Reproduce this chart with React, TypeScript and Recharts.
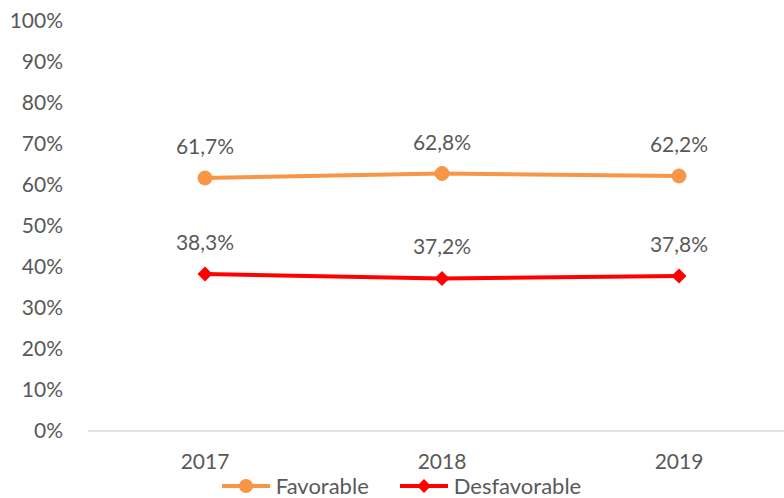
import { LineChart, Line, XAxis, YAxis, Legend, LabelList } from 'recharts';

const years = ['2017', '2018', '2019'];
const favorable = [61.7, 62.8, 62.2];
const desfavorable = [38.3, 37.2, 37.8];
const yTicks = [0, 10, 20, 30, 40, 50, 60, 70, 80, 90, 100];

const ORANGE = '#F79646';
const RED = '#FF0000';
const TEXT = '#595959';
const FONT = 'Lato, "Open Sans", sans-serif';
const FS = 21;

const data = years.map((year, i) => ({
    year,
    favorable: favorable[i],
    desfavorable: desfavorable[i],
}));

const pct = (v: number) => `${v.toFixed(1).replace('.', ',')}%`;

const Diamond = (props: any) => {
    const { cx, cy, fill } = props;
    if (cx == null || cy == null) return null;
    const s = 7.5;
    return (
        <polygon
            points={`${cx},${cy - s} ${cx + s},${cy} ${cx},${cy + s} ${cx - s},${cy}`}
            fill={fill}
        />
    );
};

const LegendContent = () => (
    <div style={{ display: 'flex', justifyContent: 'center', alignItems: 'center', paddingLeft: 18, fontFamily: FONT, fontSize: 22, color: TEXT }}>
        <svg width={50} height={20} style={{ marginRight: 5 }}>
            <line x1={1} y1={10} x2={49} y2={10} stroke={ORANGE} strokeWidth={4} />
            <circle cx={25} cy={10} r={7} fill={ORANGE} />
        </svg>
        <span style={{ marginRight: 30 }}>Favorable</span>
        <svg width={50} height={20} style={{ marginRight: 5 }}>
            <line x1={1} y1={10} x2={49} y2={10} stroke={RED} strokeWidth={4} />
            <polygon points="25,3 32,10 25,17 18,10" fill={RED} />
        </svg>
        <span>Desfavorable</span>
    </div>
);

const App = () => {
    return (
        <div style={{ position: 'absolute', left: 0, top: 0 }}>
            <LineChart width={784} height={498} data={data} margin={{ top: 21, right: 0, bottom: 0, left: 0 }}>
                <XAxis
                    dataKey="year"
                    height={41}
                    axisLine={{ stroke: '#D9D9D9', strokeWidth: 1.5 }}
                    tickLine={false}
                    tickMargin={17}
                    padding={{ left: 117, right: 105 }}
                    tick={{ fill: TEXT, fontSize: FS, fontFamily: FONT }}
                />
                <YAxis
                    width={88}
                    domain={[0, 100]}
                    ticks={yTicks}
                    interval={0}
                    axisLine={false}
                    tickLine={false}
                    tickMargin={19}
                    tickFormatter={(v: number) => `${v}%`}
                    tick={{ fill: TEXT, fontSize: FS, fontFamily: FONT }}
                />
                <Legend verticalAlign="bottom" height={26} content={<LegendContent />} />
                <Line
                    dataKey="favorable"
                    name="Favorable"
                    stroke={ORANGE}
                    strokeWidth={4}
                    dot={{ r: 7, fill: ORANGE, stroke: ORANGE, strokeWidth: 1 }}
                    isAnimationActive={false}
                >
                    <LabelList dataKey="favorable" position="top" offset={24} formatter={(v: any) => pct(v)} fill={TEXT} fontSize={FS} fontFamily={FONT} />
                </Line>
                <Line
                    dataKey="desfavorable"
                    name="Desfavorable"
                    stroke={RED}
                    strokeWidth={4}
                    dot={<Diamond fill={RED} />}
                    isAnimationActive={false}
                >
                    <LabelList dataKey="desfavorable" position="top" offset={24} formatter={(v: any) => pct(v)} fill={TEXT} fontSize={FS} fontFamily={FONT} />
                </Line>
            </LineChart>
        </div>
    );
};

export default App;
